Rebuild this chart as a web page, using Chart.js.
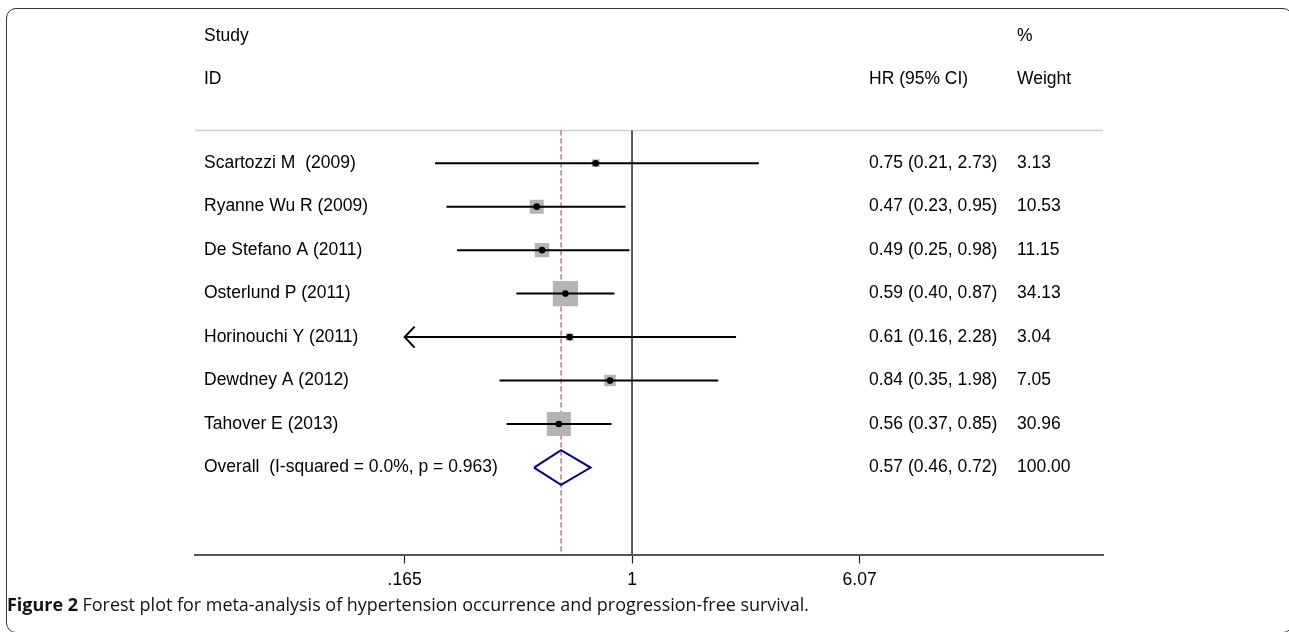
<!DOCTYPE html>
<html>
<head>
<meta charset="utf-8">
<script src="https://cdn.jsdelivr.net/npm/chart.js"></script>
<style>
  html, body { margin: 0; padding: 0; background: #fff; overflow: hidden; }
  #wrap { position: relative; width: 1289px; height: 632px; overflow: hidden; }
  #frame { position: absolute; left: 6px; top: 8px; width: 1285px; height: 623px;
           border: 1.5px solid #333; border-radius: 10px; }
  #box { position: absolute; left: 0; top: 0; width: 1289px; height: 632px; }
  #caption { position: absolute; left: 7px; top: 593px; white-space: nowrap;
             font-family: "Open Sans", sans-serif; font-size: 17.5px; line-height: 22px;
             color: #111; transform-origin: 0 0; }
  #caption b { font-weight: 700; }
</style>
</head>
<body>
<div id="wrap">
  <div id="frame"></div>
  <div id="box"><canvas id="forest"></canvas></div>
  <div id="caption"><b>Figure 2</b> Forest plot for meta-analysis of hypertension occurrence and progression-free survival.</div>
</div>
<script>
// study data
const studies = ['Scartozzi M  (2009)', 'Ryanne Wu R (2009)', 'De Stefano A (2011)', 'Osterlund P (2011)',
                 'Horinouchi Y (2011)', 'Dewdney A (2012)', 'Tahover E (2013)'];
const hr = [0.75, 0.47, 0.49, 0.59, 0.61, 0.84, 0.56];
const ciLow = [0.21, 0.23, 0.25, 0.40, 0.16, 0.35, 0.37];
const ciHigh = [2.73, 0.95, 0.98, 0.87, 2.28, 1.98, 0.85];
const weights = [3.13, 10.53, 11.15, 34.13, 3.04, 7.05, 30.96];

const overallLabel = 'Overall  (I-squared = 0.0%, p = 0.963)';
const overallHr = 0.57;
const overallLow = 0.46;
const overallHigh = 0.72;
const overallWeight = 100.00;

const tickValues = [0.165, 1, 6.07];
const tickLabels = ['.165', '1', '6.07'];

const FONT = '"Liberation Sans", Arial, sans-serif';
const overallRow = studies.length;
const clipLow = tickValues[0];

const datasets = [];

// reference lines (drawn underneath)
datasets.push({
  data: [{x: 1, y: -0.75}, {x: 1, y: 9}],
  borderColor: '#000', borderWidth: 1.3, pointRadius: 0, showLine: true, order: 20
});
datasets.push({
  data: [{x: overallHr, y: -0.75}, {x: overallHr, y: 9}],
  borderColor: '#b5505a', borderWidth: 1.2, borderDash: [5, 3], pointRadius: 0, showLine: true, order: 19
});

// weight boxes
datasets.push({
  data: hr.map((v, i) => ({x: v, y: i})),
  pointStyle: 'rect',
  pointRadius: weights.map(w => 3.05 * Math.sqrt(w)),
  backgroundColor: '#b4b4b4', borderWidth: 0, showLine: false, order: 15
});

// confidence interval lines
studies.forEach((s, i) => {
  datasets.push({
    data: [{x: Math.max(ciLow[i], clipLow), y: i}, {x: ciHigh[i], y: i}],
    borderColor: '#000', borderWidth: 2, pointRadius: 0, showLine: true, order: 10
  });
});

// point estimates
datasets.push({
  data: hr.map((v, i) => ({x: v, y: i})),
  pointStyle: 'circle', pointRadius: 3.3,
  backgroundColor: '#000', borderWidth: 0, showLine: false, order: 5
});

// overall diamond
datasets.push({
  data: [
    {x: overallLow, y: overallRow}, {x: overallHr, y: overallRow - 0.4},
    {x: overallHigh, y: overallRow}, {x: overallHr, y: overallRow + 0.4},
    {x: overallLow, y: overallRow}
  ],
  borderColor: '#00007f', borderWidth: 2, pointRadius: 0, showLine: true, order: 4
});

const forestText = {
  id: 'forestText',
  beforeDatasetsDraw(chart) {
    const {ctx, chartArea, scales: {y}} = chart;
    ctx.save();
    ctx.strokeStyle = '#cfcfcf';
    ctx.lineWidth = 1.5;
    ctx.beginPath();
    const sy = y.getPixelForValue(-0.75);
    ctx.moveTo(chartArea.left, sy);
    ctx.lineTo(chartArea.right, sy);
    ctx.stroke();
    ctx.restore();
  },
  afterDatasetsDraw(chart) {
    const {ctx, scales: {x, y}} = chart;
    ctx.save();
    // arrow for clipped interval
    ctx.strokeStyle = '#000';
    ctx.lineWidth = 2;
    studies.forEach((s, i) => {
      if (ciLow[i] < clipLow) {
        const px = x.getPixelForValue(clipLow);
        const py = y.getPixelForValue(i);
        ctx.beginPath();
        ctx.moveTo(px + 10, py - 10.5);
        ctx.lineTo(px, py);
        ctx.lineTo(px + 10, py + 10.5);
        ctx.stroke();
      }
    });

    ctx.fillStyle = '#000';
    ctx.font = '17.5px ' + FONT;
    ctx.textBaseline = 'middle';
    ctx.textAlign = 'left';
    const colLabel = 204, colHr = 869, colW = 1017;
    const ty = (row) => y.getPixelForValue(row);
    const hy = (row) => y.getPixelForValue(row) + 3;   // header lines sit a little lower
    ctx.fillText('Study', colLabel, hy(-3));
    ctx.fillText('ID', colLabel, hy(-2));
    ctx.fillText('HR (95% CI)', colHr, hy(-2));
    ctx.fillText('%', colW, hy(-3));
    ctx.fillText('Weight', colW, hy(-2));
    studies.forEach((s, i) => {
      ctx.fillText(s, colLabel, ty(i));
      ctx.fillText(hr[i].toFixed(2) + ' (' + ciLow[i].toFixed(2) + ', ' + ciHigh[i].toFixed(2) + ')', colHr, ty(i));
      ctx.fillText(weights[i].toFixed(2), colW, ty(i));
    });
    ctx.fillText(overallLabel, colLabel, ty(overallRow));
    ctx.fillText(overallHr.toFixed(2) + ' (' + overallLow.toFixed(2) + ', ' + overallHigh.toFixed(2) + ')', colHr, ty(overallRow));
    ctx.fillText(overallWeight.toFixed(2), colW, ty(overallRow));
    ctx.restore();
  }
};

new Chart(document.getElementById('forest'), {
  type: 'scatter',
  data: { datasets: datasets },
  options: {
    responsive: true,
    maintainAspectRatio: false,
    animation: false,
    events: [],
    layout: { autoPadding: false, padding: { left: 195, right: 186, top: 11, bottom: 34.5 } },
    plugins: { legend: { display: false }, tooltip: { enabled: false } },
    scales: {
      x: {
        type: 'logarithmic',
        min: 0.03134,
        max: 41.76,
        bounds: 'data',
        afterBuildTicks: (scale) => { scale.ticks = tickValues.map(v => ({value: v})); },
        ticks: {
          autoSkip: false, maxRotation: 0, padding: 6.5, color: '#000',
          font: { family: FONT, size: 17.5 },
          callback: (value) => {
            const k = tickValues.indexOf(value);
            return k >= 0 ? tickLabels[k] : '';
          }
        },
        grid: { display: true, drawOnChartArea: false, tickLength: 9, tickColor: '#222', tickWidth: 1.2 },
        border: { display: true, color: '#555', width: 2 }
      },
      y: {
        type: 'linear', reverse: true, min: -3.5, max: 9, display: false
      }
    }
  },
  plugins: [forestText]
});

// fit the caption to its width in the figure
const cap = document.getElementById('caption');
const w = cap.getBoundingClientRect().width;
cap.style.transform = 'scaleX(' + (802 / w) + ')';
</script>
</body>
</html>
